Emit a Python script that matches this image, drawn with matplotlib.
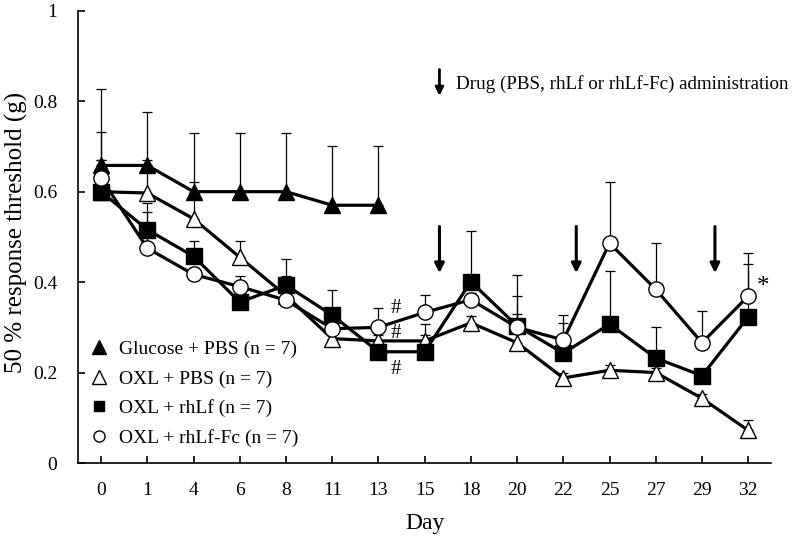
import numpy as np
import matplotlib
matplotlib.use("Agg")
import matplotlib.pyplot as plt
from matplotlib.lines import Line2D

plt.rcParams["font.family"] = ["Liberation Serif", "DejaVu Serif"]

days = ["0", "1", "4", "6", "8", "11", "13", "15", "18", "20", "22", "25", "27", "29", "32"]

# Glucose + PBS only measured until day 13
glucose_pbs = [0.658, 0.658, 0.600, 0.600, 0.600, 0.570, 0.570]
glucose_pbs_err = [0.169, 0.119, 0.129, 0.129, 0.129, 0.132, 0.132]

oxl_pbs = [0.600, 0.597, 0.540, 0.455, 0.370, 0.275, 0.270, 0.270, 0.310, 0.266,
           0.188, 0.205, 0.200, 0.143, 0.072]
oxl_pbs_err = [0.070, 0.073, 0.082, 0.037, 0.030, 0.015, 0.012, 0.012, 0.015, 0.063,
               0.012, 0.012, 0.010, 0.010, 0.023]

oxl_rhlf = [0.600, 0.516, 0.457, 0.356, 0.393, 0.327, 0.246, 0.246, 0.401, 0.303,
            0.243, 0.307, 0.232, 0.193, 0.323]
oxl_rhlf_err = [0.070, 0.058, 0.033, 0.020, 0.059, 0.056, 0.015, 0.061, 0.111, 0.113,
                0.067, 0.118, 0.068, 0.015, 0.116]

oxl_rhlf_fc = [0.630, 0.475, 0.417, 0.390, 0.360, 0.297, 0.300, 0.333, 0.361, 0.300,
               0.272, 0.486, 0.384, 0.266, 0.369]
oxl_rhlf_fc_err = [0.101, 0.080, 0.015, 0.023, 0.053, 0.015, 0.042, 0.039, 0.015, 0.070,
                   0.055, 0.136, 0.103, 0.070, 0.095]

dose_pos = [7.32, 10.28, 13.28]   # between-day positions of the administration arrows
hash_y = [0.342, 0.286, 0.206]

fig = plt.figure(figsize=(7.96, 5.39), dpi=100)
ax = fig.add_axes([0.098, 0.141, 0.871, 0.839])

x_all = np.arange(len(days))

series = [
    (glucose_pbs, glucose_pbs_err, "^", "black", 12),
    (oxl_pbs, oxl_pbs_err, "^", "white", 12),
    (oxl_rhlf, oxl_rhlf_err, "s", "black", 11),
    (oxl_rhlf_fc, oxl_rhlf_fc_err, "o", "white", 11),
]
for vals, err, mk, fc, ms in series:
    xs = x_all[:len(vals)]
    ax.errorbar(xs, vals, yerr=[np.zeros(len(err)), err], fmt="none",
                ecolor="black", elinewidth=0.9, capsize=3.5, capthick=0.9, zorder=2)
    ax.plot(xs, vals, color="black", lw=2.3, marker=mk, markersize=ms,
            markerfacecolor=fc, markeredgecolor="black", markeredgewidth=1.0, zorder=3)

for xp in dose_pos:
    ax.annotate("", xy=(xp, 0.42), xytext=(xp, 0.523),
                arrowprops=dict(arrowstyle="-|>", lw=2.2, color="black",
                                mutation_scale=14, shrinkA=0, shrinkB=0))

ax.annotate("", xy=(7.32, 0.812), xytext=(7.32, 0.870),
            arrowprops=dict(arrowstyle="-|>", lw=2.0, color="black",
                            mutation_scale=12, shrinkA=0, shrinkB=0))
ax.text(7.67, 0.838, "Drug (PBS, rhLf or rhLf-Fc) administration",
        fontsize=13.7, va="center", ha="left")

for hy in hash_y:
    ax.text(6.37, hy, "#", fontsize=15, ha="center", va="center")
ax.text(14.33, 0.39, "*", fontsize=18, ha="center", va="center")

handles = [
    Line2D([], [], ls="none", marker="^", ms=10, mfc="black", mec="black"),
    Line2D([], [], ls="none", marker="^", ms=10, mfc="white", mec="black"),
    Line2D([], [], ls="none", marker="s", ms=7, mfc="black", mec="black"),
    Line2D([], [], ls="none", marker="o", ms=8, mfc="white", mec="black"),
]
labels = ["Glucose + PBS (n = 7)", "OXL + PBS (n = 7)",
          "OXL + rhLf (n = 7)", "OXL + rhLf-Fc (n = 7)"]
ax.legend(handles, labels, loc="lower left", bbox_to_anchor=(0.0, 0.01),
          frameon=False, fontsize=14, handlelength=1.0, handletextpad=0.5,
          labelspacing=0.6, borderaxespad=0.2)

ax.set_xlim(-0.5, len(days) - 0.5)
ax.set_ylim(0, 1)
ax.set_xticks(x_all)
ax.set_xticklabels(days)
ax.set_yticks([0, 0.2, 0.4, 0.6, 0.8, 1.0])
ax.set_yticklabels(["0", "0.2", "0.4", "0.6", "0.8", "1"])
ax.tick_params(direction="in", length=5, width=1.2, labelsize=14)
ax.tick_params(axis="x", pad=14)
ax.tick_params(axis="y", pad=15)
for s in ["top", "right"]:
    ax.spines[s].set_visible(False)
for s in ["left", "bottom"]:
    ax.spines[s].set_linewidth(1.2)

ax.set_xlabel("Day", fontsize=17, labelpad=10)
ax.set_ylabel("50 % response threshold (g)", fontsize=18)
ax.yaxis.set_label_coords(-0.072, 0.51)

fig.savefig("out.png", dpi=100)
